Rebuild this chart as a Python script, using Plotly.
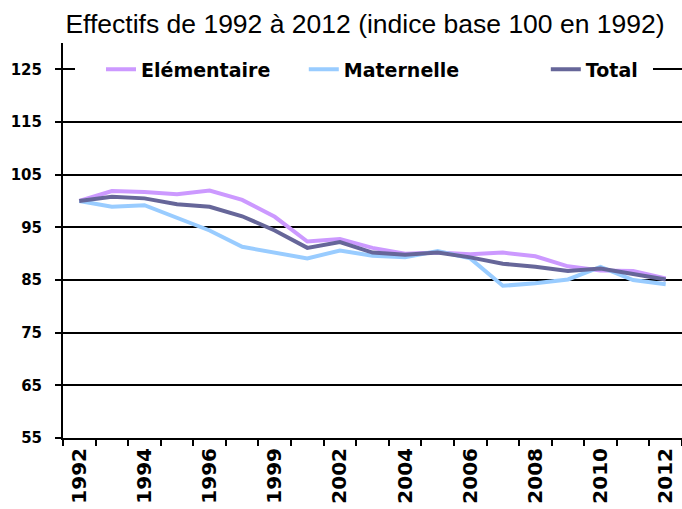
import plotly.graph_objects as go

years = ["1992", "1993", "1994", "1995", "1996", "1997", "1999", "2000", "2002", "2003",
         "2004", "2005", "2006", "2007", "2008", "2009", "2010", "2011", "2012"]
elementaire = [100, 101.9, 101.7, 101.3, 102.0, 100.2, 97.0, 92.3, 92.8, 91.1,
               90.0, 90.2, 89.9, 90.2, 89.5, 87.6, 86.8, 86.7, 85.3]
maternelle = [100, 98.9, 99.2, 96.7, 94.4, 91.3, 90.2, 89.1, 90.6, 89.6,
              89.3, 90.5, 89.1, 83.9, 84.4, 85.1, 87.5, 85.0, 84.2]
total = [100, 100.8, 100.5, 99.4, 98.9, 97.1, 94.4, 91.1, 92.2, 90.2,
         89.8, 90.2, 89.3, 88.1, 87.5, 86.7, 87.2, 86.2, 85.1]
y_ticks = [55, 65, 75, 85, 95, 105, 115, 125]

idx = list(range(len(years)))
bold = "DejaVu Sans"

fig = go.Figure()
series = [("Elémentaire", elementaire, "#CC99FF", "legend", 0.0614),
          ("Maternelle", maternelle, "#99CCFF", "legend2", 0.389),
          ("Total", total, "#666699", "legend3", 0.780)]
legends = {}
for name, vals, col, lg, lx in series:
    fig.add_trace(go.Scatter(x=idx, y=vals, mode="lines", name=name, legend=lg,
                             line=dict(color=col, width=4)))
    legends[lg] = dict(orientation="h", x=lx, xanchor="left", y=(125 - 55) / 75,
                       yanchor="middle", bgcolor="white",
                       font=dict(family=bold, size=19, color="black", weight="bold"))

# white band behind the legends (legend box background)
fig.add_shape(type="rect", xref="paper", yref="y",
              x0=(75 - 63) / 619, x1=(653 - 63) / 619, y0=123.3, y1=126.7,
              fillcolor="white", line=dict(width=0), layer="above")

fig.update_layout(
    width=682, height=509,
    margin=dict(l=63, r=0, t=43, b=71),
    paper_bgcolor="white", plot_bgcolor="white",
    title=dict(text="Effectifs de 1992 à 2012 (indice base 100 en 1992)",
               font=dict(family="Liberation Sans, Arial, sans-serif",
                         size=26.5, color="black"),
               x=365 / 682, xref="container", xanchor="center",
               y=1 - 24 / 509, yref="container", yanchor="middle"),
    showlegend=True,
    **legends,
)
fig.update_xaxes(
    range=[-0.5, len(years) - 0.5],
    tickmode="array", tickvals=idx[::2], ticktext=years[::2],
    tickangle=-90, ticks="", showgrid=False, zeroline=False,
    showline=True, linecolor="black", linewidth=2,
    tickfont=dict(family=bold, size=20, color="black", weight="bold"),
    minor=dict(tickmode="array", tickvals=[i - 0.5 for i in range(len(years) + 1)],
               ticks="outside", ticklen=6, tickcolor="black", tickwidth=2, showgrid=False),
)
fig.update_yaxes(
    range=[55, 130], tickmode="array", tickvals=y_ticks,
    ticks="outside", ticklen=6, tickcolor="black", tickwidth=2,
    showgrid=True, gridcolor="black", gridwidth=2, zeroline=False,
    showline=True, linecolor="black", linewidth=2,
    tickfont=dict(family=bold, size=15, color="black", weight="bold"),
    ticklabelstandoff=10,
)
fig.write_html("out.html", config={"displayModeBar": False},
               post_script="document.body.style.margin='0px';")
